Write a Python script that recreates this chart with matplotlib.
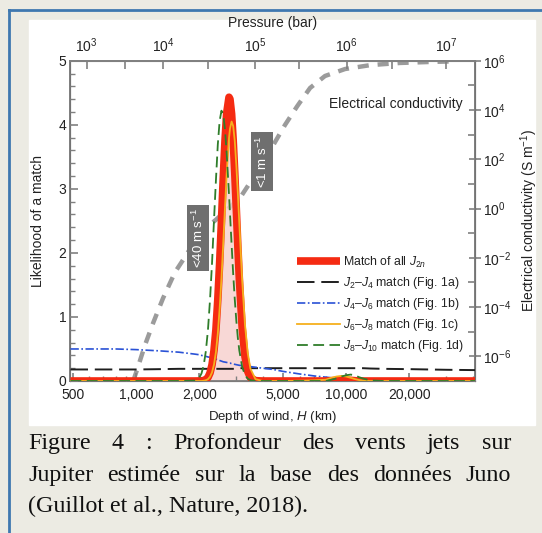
import numpy as np
import matplotlib
matplotlib.use('Agg')
import matplotlib.pyplot as plt
from matplotlib.lines import Line2D
from matplotlib.ticker import FixedLocator, NullFormatter, LogLocator

plt.rcParams['font.family'] = ['Liberation Sans', 'DejaVu Sans']
plt.rcParams['mathtext.fontset'] = 'custom'
plt.rcParams['mathtext.rm'] = 'Liberation Sans'
plt.rcParams['mathtext.it'] = 'Liberation Sans:italic'
plt.rcParams['mathtext.default'] = 'regular'

# profondeur (km) commune a toutes les courbes de vraisemblance
depth_km = [488, 600, 800, 1000, 1300, 1600, 1900, 2000, 2050, 2100, 2150, 2200,
            2250, 2300, 2350, 2400, 2450, 2500, 2550, 2600, 2650, 2700, 2770,
            2800, 2850, 2900, 2950, 3000, 3050, 3100, 3200, 3300, 3400, 3500,
            3700, 4000, 4500, 5000, 6000, 7000, 8000, 8500, 9000, 9500, 10000,
            10500, 11000, 11500, 12000, 13000, 15000, 20000, 30000, 41000]

match_all = [0, 0, 0, 0, 0, 0, 0, 0.001, 0.003, 0.008, 0.022, 0.055,
             0.126, 0.254, 0.476, 0.80, 1.27, 1.84, 2.49, 3.16, 3.74, 4.18, 4.43,
             4.40, 4.17, 3.76, 3.25, 2.69, 2.12, 1.61, 0.83, 0.38, 0.150, 0.053,
             0.005, 0, 0, 0, 0, 0, 0, 0.005, 0.01, 0.015, 0.015,
             0.01, 0.005, 0, 0, 0, 0, 0, 0, 0]

j2_j4 = [0.18, 0.18, 0.18, 0.18, 0.185, 0.19, 0.19, 0.19, 0.19, 0.19, 0.19, 0.19,
         0.19, 0.19, 0.19, 0.19, 0.19, 0.19, 0.19, 0.19, 0.19, 0.19, 0.19,
         0.19, 0.19, 0.19, 0.19, 0.2, 0.2, 0.2, 0.2, 0.2, 0.2, 0.2,
         0.2, 0.2, 0.2, 0.2, 0.2, 0.2, 0.2, 0.2, 0.2, 0.2, 0.2,
         0.2, 0.2, 0.2, 0.2, 0.195, 0.19, 0.185, 0.175, 0.17]

j4_j6 = [0.5, 0.5, 0.5, 0.49, 0.47, 0.45, 0.42, 0.41, 0.40, 0.39, 0.385, 0.375,
         0.37, 0.36, 0.35, 0.34, 0.33, 0.32, 0.31, 0.30, 0.295, 0.29, 0.28,
         0.28, 0.27, 0.265, 0.26, 0.255, 0.25, 0.245, 0.24, 0.235, 0.23, 0.225,
         0.215, 0.2, 0.18, 0.15, 0.11, 0.08, 0.06, 0.05, 0.04, 0.035, 0.03,
         0.025, 0.02, 0.015, 0.012, 0.008, 0.004, 0, 0, 0]

j6_j8 = [0, 0, 0, 0, 0, 0, 0, 0, 0, 0.004, 0.012, 0.028,
         0.066, 0.135, 0.256, 0.45, 0.74, 1.13, 1.60, 2.14, 2.70, 3.23, 3.79,
         3.94, 4.05, 3.98, 3.75, 3.38, 2.95, 2.47, 1.57, 0.88, 0.44, 0.195,
         0.03, 0, 0, 0, 0.005, 0.01, 0.02, 0.05, 0.07, 0.08, 0.07,
         0.05, 0.03, 0.015, 0.005, 0, 0, 0, 0, 0]

j8_j10 = [0, 0, 0, 0, 0, 0, 0.007, 0.051, 0.119, 0.247, 0.468, 0.80,
          1.27, 1.84, 2.51, 3.13, 3.69, 4.06, 4.22, 4.16, 3.93, 3.56, 2.91,
          2.61, 2.13, 1.67, 1.28, 0.95, 0.68, 0.48, 0.22, 0.093, 0.036, 0.013,
          0, 0, 0, 0, 0, 0, 0, 0.02, 0.04, 0.07, 0.09,
          0.1, 0.09, 0.06, 0.04, 0.01, 0, 0, 0, 0]

# conductivite electrique (S/m) en fonction de la profondeur
cond_depth_km = [970, 1011, 1104, 1205, 1345, 1533, 1700, 2016, 2400, 2800,
                 3125, 3685, 4350, 5120, 5840, 6730, 7930, 9880, 13000, 18000,
                 25100, 31300]
cond_S_m = [1e-7, 2.8e-7, 2.9e-6, 2.2e-5, 2.3e-4, 2.6e-3, 1.0e-2, 0.1, 0.35, 1.15,
            2.7, 23, 230, 2500, 1.4e4, 7.8e4, 2.4e5, 4.6e5, 6.6e5, 8.1e5,
            8.9e5, 9.3e5]

# graduations de pression (bar) placees sur l'echelle de profondeur
pressure_labels = ['10$^{3}$', '10$^{4}$', '10$^{5}$', '10$^{6}$', '10$^{7}$']
pressure_major_km = [583, 1345, 3690, 10050, 29900]
pressure_minor_km = [886, 2200, 5970, 16550]

depth_ticks = [500, 1000, 2000, 5000, 10000, 20000]
depth_labels = ['500', '1,000', '2,000', '5,000', '10,000', '20,000']

W, H = 542, 533
fig = plt.figure(figsize=(W / 100, H / 100), dpi=100)
fig.patch.set_facecolor('#ecebe3')

def fx(px):
    return px / W

def fy(py):
    return 1 - py / H

# cadre bleu et panneau blanc
fig.add_artist(Line2D([fx(8.5), 1], [fy(9.5), fy(9.5)], color='#3f78b0', lw=2))
fig.add_artist(Line2D([fx(8.5), fx(8.5)], [0, fy(9.5)], color='#3f78b0', lw=2))
fig.add_artist(plt.Rectangle((fx(29), fy(425)), fx(535) - fx(29), fy(20) - fy(425),
                             transform=fig.transFigure, color='white', zorder=0))

ax = fig.add_axes([fx(70.5), fy(381), fx(475) - fx(70.5), fy(60.7) - fy(381)])
ax2 = ax.twinx()
ax.set_zorder(ax2.get_zorder() + 1)
ax.patch.set_visible(False)

spine_col = '#808080'
txt_col = '#222222'

# conductivite (axe de droite)
ax2.plot(cond_depth_km, cond_S_m, color='#9b9b9b', lw=3.2, ls=(0, (2.5, 2.0)), zorder=1)
ax2.set_yscale('log')
ax2.set_ylim(1e-7, 1e6)
ax2.yaxis.set_major_locator(FixedLocator([1e-6, 1e-4, 1e-2, 1, 1e2, 1e4, 1e6]))
ax2.yaxis.set_minor_locator(FixedLocator([1e-5, 1e-3, 1e-1, 1e1, 1e3, 1e5]))
ax2.yaxis.set_minor_formatter(NullFormatter())
ax2.set_yticklabels(['10$^{-6}$', '10$^{-4}$', '10$^{-2}$', '10$^{0}$',
                     '10$^{2}$', '10$^{4}$', '10$^{6}$'])
ax2.tick_params(axis='y', which='major', direction='inout', length=8, width=1.2,
                color=spine_col, labelsize=10, labelcolor=txt_col, pad=2)
ax2.tick_params(axis='y', which='minor', direction='in', length=5, width=1.2,
                color=spine_col)
ax2.set_ylabel('Electrical conductivity (S m$^{-1}$)', fontsize=10, color=txt_col,
               labelpad=5)

# vraisemblances (axe de gauche)
ax.fill_between(depth_km, match_all, color='#f7cfcc', alpha=0.8, lw=0, zorder=1)
ax.plot(depth_km, j2_j4, color='#1e1e1e', lw=1.4, ls=(0, (9, 3.5)), zorder=3,
        label='$\\mathit{J}_2$–$\\mathit{J}_4$ match (Fig. 1a)')
ax.plot(depth_km, j4_j6, color='#2a52d6', lw=1.2, ls=(0, (5, 1.5, 1, 1.5)), zorder=3,
        label='$\\mathit{J}_4$–$\\mathit{J}_6$ match (Fig. 1b)')
ax.plot(depth_km, match_all, color='#f52b12', lw=5.5, zorder=4, solid_capstyle='butt',
        label='Match of all $\\mathit{J}_{2\\mathit{n}}$')
ax.plot(depth_km, j6_j8, color='#f6b01e', lw=1.3, zorder=5,
        label='$\\mathit{J}_6$–$\\mathit{J}_8$ match (Fig. 1c)')
ax.plot(depth_km, j8_j10, color='#2f7d2a', lw=1.3, ls=(0, (6, 3)), zorder=6,
        label='$\\mathit{J}_8$–$\\mathit{J}_{10}$ match (Fig. 1d)')

ax.set_xscale('log')
ax.set_xlim(488, 41000)
ax.set_ylim(0, 5)
ax.set_xticks(depth_ticks)
ax.set_xticklabels(depth_labels)
ax.xaxis.set_minor_locator(LogLocator(base=10, subs=np.arange(2, 10)))
ax.xaxis.set_minor_formatter(NullFormatter())
ax.set_yticks([0, 1, 2, 3, 4, 5])
ax.yaxis.set_minor_locator(FixedLocator(np.arange(0, 5.01, 0.2)))
ax.tick_params(axis='both', which='major', direction='in', length=6, width=1.2,
               color=spine_col, labelsize=10, labelcolor=txt_col)
ax.tick_params(axis='both', which='minor', direction='in', length=3.5, width=1.0,
               color=spine_col)
ax.tick_params(axis='x', which='major', pad=5)
ax.tick_params(axis='y', which='major', pad=3)
ax.set_ylabel('Likelihood of a match', fontsize=10, color=txt_col, labelpad=10)
ax.set_xlabel('Depth of wind, $\\mathit{H}$ (km)', fontsize=9.5, color=txt_col,
              labelpad=5)

for a in (ax, ax2):
    for s in a.spines.values():
        s.set_color(spine_col)
        s.set_linewidth(1.3)

# axe de pression (en haut)
axt = ax.twiny()
axt.set_xscale('log')
axt.set_xlim(ax.get_xlim())
axt.xaxis.set_major_locator(FixedLocator(pressure_major_km))
axt.xaxis.set_minor_locator(FixedLocator(pressure_minor_km))
axt.xaxis.set_minor_formatter(NullFormatter())
axt.set_xticklabels(pressure_labels)
axt.tick_params(axis='x', which='both', direction='in', length=6, width=1.2,
                color=spine_col, labelsize=10, labelcolor=txt_col, pad=4)
axt.set_xlabel('Pressure (bar)', fontsize=10, color=txt_col, labelpad=7)
axt.spines['top'].set_color(spine_col)
axt.set_zorder(ax.get_zorder() - 1)

# legende
handles, labels = ax.get_legend_handles_labels()
order = [2, 0, 1, 3, 4]
leg = ax.legend([handles[i] for i in order], [labels[i] for i in order],
                loc='upper left', bbox_to_anchor=(0.549, 0.41), frameon=False,
                fontsize=8.8, handlelength=3.5, handletextpad=0.2,
                labelspacing=0.42, borderaxespad=0)
for t in leg.get_texts():
    t.set_color(txt_col)

ax.text(0.805, 0.866, 'Electrical conductivity', transform=ax.transAxes,
        fontsize=10, color=txt_col, ha='center', va='center')

box = dict(boxstyle='square,pad=0.25', fc='#6f6f6f', ec='none')
ax.annotate('<40 m s$^{-1}$', xy=(fx(198), fy(238)), xycoords='figure fraction',
            rotation=90, ha='center', va='center', fontsize=9.5, color='white',
            bbox=box, zorder=10)
ax.annotate('<1 m s$^{-1}$', xy=(fx(262), fy(161.5)), xycoords='figure fraction',
            rotation=90, ha='center', va='center', fontsize=9.5, color='white',
            bbox=box, zorder=10)

# legende en francais : deux lignes justifiees, la derniere alignee a gauche
caption = ['Figure 4 : Profondeur des vents jets sur',
           'Jupiter estimée sur la base des données Juno',
           '(Guillot et al., Nature, 2018).']
baselines = [449, 481, 512]
left_px, right_px = 28, 511
cap_font = dict(family='Liberation Serif', fontsize=17.3, color='#111111')

renderer = fig.canvas.get_renderer()
for i, line in enumerate(caption):
    if i == len(caption) - 1:
        fig.text(fx(left_px), fy(baselines[i]), line, va='baseline', ha='left',
                 **cap_font)
        continue
    words = line.split(' ')
    arts = [fig.text(0, fy(baselines[i]), w, va='baseline', ha='left', **cap_font)
            for w in words]
    widths = [a.get_window_extent(renderer).width for a in arts]
    gap = (right_px - left_px - sum(widths)) / (len(words) - 1)
    x = left_px
    for a, w in zip(arts, widths):
        a.set_x(fx(x))
        x += w + gap

fig.savefig('out.png', dpi=100, facecolor=fig.get_facecolor())
